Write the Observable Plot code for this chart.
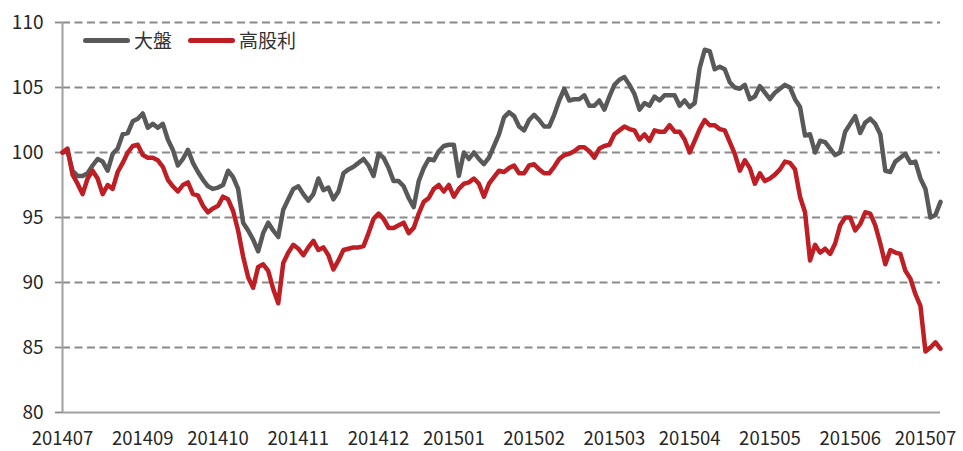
<!DOCTYPE html>
<html>
<head>
<meta charset="utf-8">
<script src="https://cdn.jsdelivr.net/npm/d3@7"></script>
<script src="https://cdn.jsdelivr.net/npm/@observablehq/plot@0.6"></script>
<style>
  body { margin: 0; background: #fff; }
  #wrap { position: relative; width: 963px; height: 451px; font-family: "Noto Sans CJK TC", "Noto Sans", sans-serif; }
  #legend { position: absolute; left: 83px; top: 28px; display: flex; align-items: center; font-size: 19px; color: #333; line-height: 24px; }
  #legend .item { display: flex; align-items: center; margin-right: 16px; }
  #legend .sw { display: inline-block; width: 47px; height: 5px; border-radius: 3px; margin-right: 4px; }
</style>
</head>
<body>
<div id="wrap"><div id="legend"></div></div>
<script>
// Series names
const seriesNames = ["大盤", "高股利"];
const seriesColors = ["#595959", "#be1e24"];

// X-axis tick labels and the trading-day index where each sits
const tickLabels = ["201407","201409","201410","201411","201412","201501","201502","201503","201504","201505","201506","201507"];
const tickIndex = [0, 16, 31, 47, 63, 78, 94, 110, 125, 141, 157, 172];

// Y ticks
const yTicks = [80, 85, 90, 95, 100, 105, 110];

// 大盤 (market index, rebased to 100)
const market = [
100.0,100.1,98.6,98.2,98.2,98.4,99.0,99.5,99.3,98.6,
99.9,100.3,101.4,101.5,102.4,102.6,103.0,101.9,102.2,101.9,
102.2,101.0,100.2,99.0,99.5,100.2,99.2,98.5,97.9,97.4,
97.2,97.3,97.5,98.6,98.1,97.2,94.6,94.0,93.3,92.4,
93.8,94.6,94.0,93.5,95.6,96.4,97.2,97.4,96.8,96.3,
96.8,98.0,97.1,97.3,96.4,97.0,98.4,98.7,98.9,99.2,
99.5,99.0,98.2,99.9,99.6,98.8,97.8,97.8,97.4,96.5,
95.8,97.8,98.8,99.5,99.4,100.1,100.5,100.6,100.6,98.2,
100.0,99.5,100.0,99.5,99.1,99.6,100.5,101.4,102.7,103.1,
102.8,102.0,101.7,102.5,102.9,102.5,102.0,102.0,102.9,104.0,
104.9,104.0,104.1,104.1,104.4,103.6,103.6,104.0,103.3,104.3,
105.2,105.6,105.8,105.2,104.5,103.3,103.8,103.6,104.3,104.0,
104.4,104.4,104.4,103.6,104.0,103.5,103.8,106.5,107.9,107.8,
106.4,106.6,106.4,105.4,105.0,104.9,105.2,104.1,104.3,105.1,
104.6,104.1,104.6,104.9,105.2,105.0,104.1,103.5,101.3,101.4,
100.0,100.9,100.8,100.3,99.8,100.0,101.6,102.2,102.8,101.5,
102.3,102.6,102.2,101.4,98.6,98.5,99.3,99.6,99.9,99.2,
99.3,98.0,97.2,95.0,95.2,96.2
];

// 高股利 (high dividend index, rebased to 100)
const highDividend = [
100.0,100.3,98.3,97.6,96.8,98.0,98.6,98.0,96.8,97.5,
97.2,98.5,99.2,100.0,100.5,100.6,99.8,99.6,99.6,99.4,
98.9,97.9,97.4,97.0,97.5,97.7,96.8,96.7,95.9,95.4,
95.7,95.9,96.6,96.4,95.5,94.0,92.0,90.4,89.6,91.2,
91.4,90.9,89.5,88.4,91.5,92.3,92.9,92.6,92.1,92.7,
93.2,92.5,92.7,92.1,91.0,91.7,92.5,92.6,92.7,92.7,
92.8,93.8,94.9,95.3,94.9,94.2,94.2,94.4,94.6,93.8,
94.2,95.3,96.2,96.5,97.2,97.5,97.0,97.5,96.6,97.2,
97.6,97.7,98.0,97.6,96.6,97.6,98.1,98.6,98.5,98.8,
99.0,98.4,98.4,99.0,99.1,98.7,98.4,98.4,98.9,99.5,
99.8,99.9,100.1,100.4,100.4,100.1,99.6,100.3,100.5,100.6,
101.4,101.7,102.0,101.8,101.7,101.0,101.4,100.9,101.7,101.6,
101.6,102.1,101.6,101.6,101.0,100.0,100.9,101.8,102.5,102.1,
102.1,101.8,101.7,100.8,99.9,98.6,99.4,98.8,97.6,98.4,
97.8,98.0,98.3,98.7,99.3,99.2,98.7,96.6,95.4,91.7,
92.9,92.3,92.6,92.2,93.0,94.4,95.0,95.0,94.0,94.5,
95.4,95.3,94.4,93.0,91.4,92.5,92.3,92.2,90.9,90.3,
89.1,88.2,84.7,85.0,85.4,84.9
];

const N = market.length;
const font = '"Noto Sans CJK TC", "Noto Sans", sans-serif';

const chart = Plot.plot({
  width: 963,
  height: 451,
  marginLeft: 62,
  marginRight: 23,
  marginTop: 22,
  marginBottom: 39,
  style: { fontFamily: font, fontSize: "19px", color: "#262626", background: "#fff", overflow: "visible" },
  x: { domain: [0, N - 1], axis: null },
  y: { domain: [80, 110], axis: null },
  marks: [
    Plot.gridY(yTicks.filter(d => d > 80), { stroke: "#8a8a8a", strokeOpacity: 1, strokeWidth: 1.8, strokeDasharray: "8,4.5" }),
    Plot.axisY(yTicks, { tickSize: 7, tickPadding: 12, stroke: "#8a8a8a", strokeWidth: 1.8, fill: "#262626", fontSize: 19 }),
    Plot.ruleY([80], { stroke: "#a0a0a0", strokeWidth: 2 }),
    Plot.ruleX([0], { stroke: "#a0a0a0", strokeWidth: 2 }),
    Plot.axisX(tickIndex, { tickSize: 0, tickPadding: 19, tickFormat: d => tickLabels[tickIndex.indexOf(d)], fill: "#262626", fontSize: 18.5 }),
    Plot.line(market, { x: (d, i) => i, y: d => d, stroke: seriesColors[0], strokeWidth: 4.5, strokeLinejoin: "round", strokeLinecap: "round" }),
    Plot.line(highDividend, { x: (d, i) => i, y: d => d, stroke: seriesColors[1], strokeWidth: 4.5, strokeLinejoin: "round", strokeLinecap: "round" })
  ]
});

const wrap = document.getElementById("wrap");
wrap.insertBefore(chart, wrap.firstChild);

const legend = document.getElementById("legend");
seriesNames.forEach((name, k) => {
  const item = document.createElement("div");
  item.className = "item";
  const sw = document.createElement("span");
  sw.className = "sw";
  sw.style.background = seriesColors[k];
  const tx = document.createElement("span");
  tx.textContent = name;
  item.appendChild(sw);
  item.appendChild(tx);
  legend.appendChild(item);
});
</script>
</body>
</html>
